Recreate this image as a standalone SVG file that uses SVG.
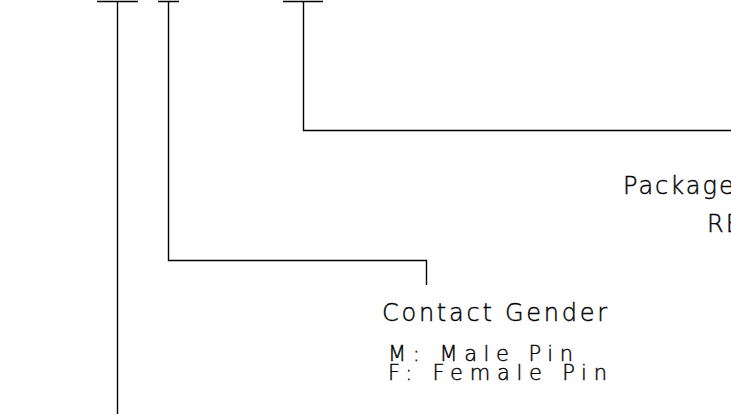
<svg xmlns="http://www.w3.org/2000/svg" width="731" height="414" viewBox="0 0 731 414">
<style>
.ln{fill:none;stroke:#000;stroke-width:1.4}
.t{font-family:"DejaVu Sans","Liberation Sans",Arial,sans-serif;font-weight:200;font-size:24px;fill:#000;stroke:#000;stroke-width:0.4}
.s{font-size:21px}
</style>
<rect width="731" height="414" fill="#fff"/>
<g id="connectors">
<path class="ln" d="M97 1.5H138M117.5 1.5V414"/>
<path class="ln" d="M158 1.5H179M168.5 1.5V260.5H426.5V285"/>
<path class="ln" d="M283 1.5H323M303.5 1.5V130.5H731"/>
</g>
<g id="package">
<text class="t" x="623" y="194" style="letter-spacing:2px">Package</text>
<text class="t" x="707" y="232" style="letter-spacing:2px">RE</text>
</g>
<g id="contact-gender">
<text class="t" x="382" y="321" textLength="225" lengthAdjust="spacing">Contact Gender</text>
<text class="t s" x="388" y="361" textLength="185" lengthAdjust="spacing">M: Male Pin</text>
<text class="t s" x="388" y="380" textLength="219" lengthAdjust="spacing">F: Female Pin</text>
</g>
</svg>
